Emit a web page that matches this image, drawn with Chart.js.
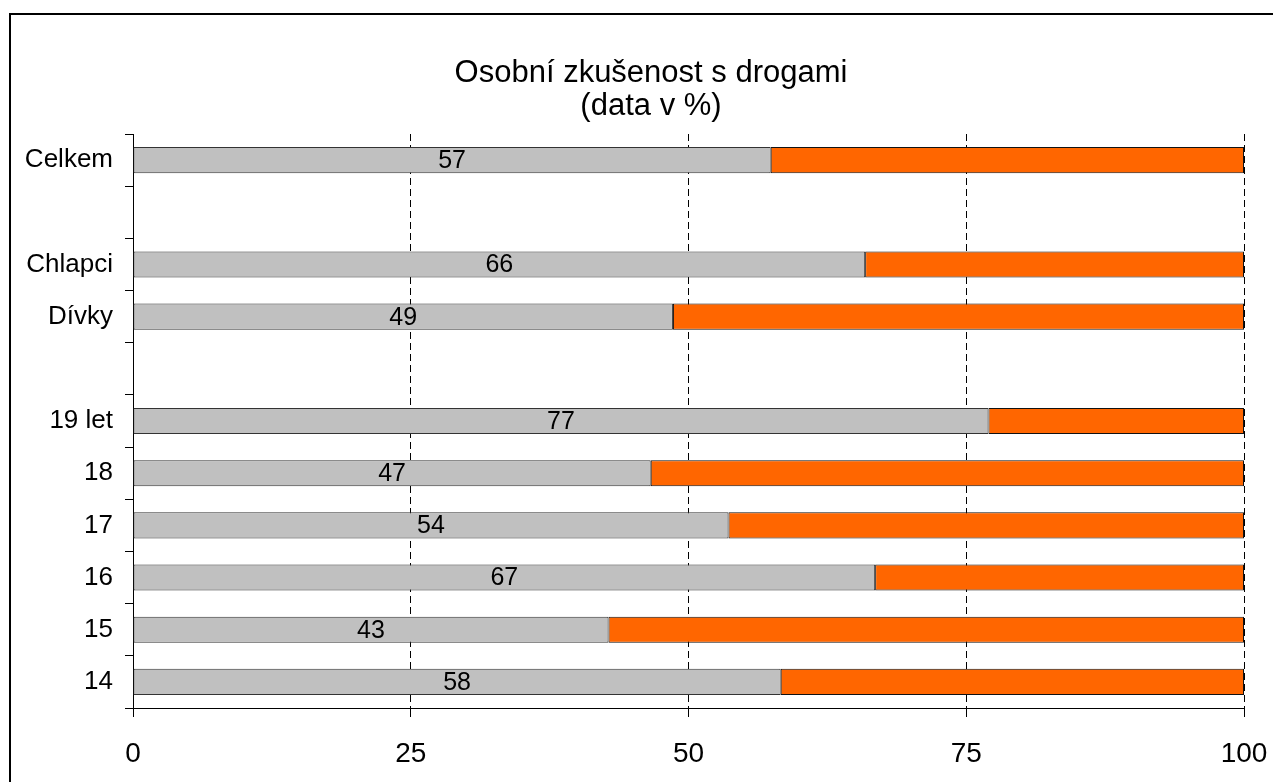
<!DOCTYPE html>
<html>
<head>
<meta charset="utf-8">
<script src="https://cdn.jsdelivr.net/npm/chart.js@4/dist/chart.umd.min.js"></script>
<style>
  body { margin: 0; background: #fff; }
  #wrap { position: relative; width: 1273px; height: 782px; overflow: hidden; }
  #frame { position: absolute; left: 9px; top: 13px; width: 1280px; height: 800px; border: 2px solid #000; pointer-events: none; }
</style>
</head>
<body>
<div id="wrap">
  <canvas id="drugChart" width="1273" height="782"></canvas>
  <div id="frame"></div>
</div>
<script>
var titleLines = ['Osobní zkušenost s drogami', '(data v %)'];
var categories = ['Celkem', '', 'Chlapci', 'Dívky', '', '19 let', '18', '17', '16', '15', '14'];
var triedValues = [57.4, null, 65.9, 48.6, null, 77.0, 46.6, 53.6, 66.8, 42.8, 58.3];
var notTriedValues = [42.6, null, 34.1, 51.4, null, 23.0, 53.4, 46.4, 33.2, 57.2, 41.7];
var triedLabels = ['57', '', '66', '49', '', '77', '47', '54', '67', '43', '58'];
var xTicks = [0, 25, 50, 75, 100];

var fontFamily = '"Liberation Sans", Arial, sans-serif';

// title is drawn by hand so it can sit off the plot centre like the original
var chartTitle = {
  id: 'chartTitle',
  afterDraw: function (chart) {
    var ctx = chart.ctx;
    ctx.save();
    ctx.font = '31px ' + fontFamily;
    ctx.fillStyle = '#000';
    ctx.textAlign = 'center';
    ctx.textBaseline = 'middle';
    ctx.fillText(titleLines[0], 651, 73);
    ctx.fillText(titleLines[1], 651, 106);
    ctx.restore();
  }
};

// writes the percentage inside the grey bars
var barLabels = {
  id: 'barLabels',
  afterDatasetsDraw: function (chart) {
    var ctx = chart.ctx;
    var meta = chart.getDatasetMeta(0);
    ctx.save();
    ctx.font = '25px ' + fontFamily;
    ctx.fillStyle = '#000';
    ctx.textAlign = 'center';
    ctx.textBaseline = 'middle';
    meta.data.forEach(function (bar, i) {
      if (!triedLabels[i]) return;
      ctx.fillText(triedLabels[i], (bar.x + bar.base) / 2, bar.y + 1);
    });
    ctx.restore();
  }
};

new Chart(document.getElementById('drugChart'), {
  type: 'bar',
  data: {
    labels: categories,
    datasets: [{
      label: 'Ano',
      data: triedValues,
      backgroundColor: '#C0C0C0',
      borderColor: '#333',
      borderWidth: 1,
      borderSkipped: false
    }, {
      label: 'Ne',
      data: notTriedValues,
      backgroundColor: '#FF6600',
      borderColor: '#111',
      borderWidth: 1,
      borderSkipped: false
    }]
  },
  options: {
    indexAxis: 'y',
    responsive: false,
    animation: false,
    barPercentage: 0.5,
    categoryPercentage: 1,
    layout: { padding: { left: 0, right: 29, top: 134, bottom: 0 } },
    plugins: {
      legend: { display: false },
      tooltip: { enabled: false },
      title: { display: false }
    },
    scales: {
      x: {
        stacked: true,
        min: 0,
        max: 100,
        afterBuildTicks: function (scale) {
          scale.ticks = xTicks.map(function (v) { return { value: v }; });
        },
        afterFit: function (scale) {
          scale.height = 74;
          scale.paddingLeft = 0;
          scale.paddingRight = 0;
        },
        grid: {
          color: '#000',
          lineWidth: 1,
          drawTicks: true,
          tickLength: 9,
          tickColor: '#000'
        },
        border: { display: true, color: '#000', width: 1, dash: [7, 4] },
        ticks: {
          color: '#000',
          padding: 20,
          font: { family: fontFamily, size: 28 }
        }
      },
      y: {
        stacked: true,
        afterFit: function (scale) { scale.width = 133; },
        grid: {
          drawOnChartArea: false,
          offset: true,
          tickLength: 8,
          tickColor: '#000'
        },
        border: { display: true, color: '#000', width: 1 },
        ticks: {
          color: '#000',
          padding: 12,
          autoSkip: false,
          font: { family: fontFamily, size: 26 }
        }
      }
    }
  },
  plugins: [barLabels, chartTitle]
});
</script>
</body>
</html>
